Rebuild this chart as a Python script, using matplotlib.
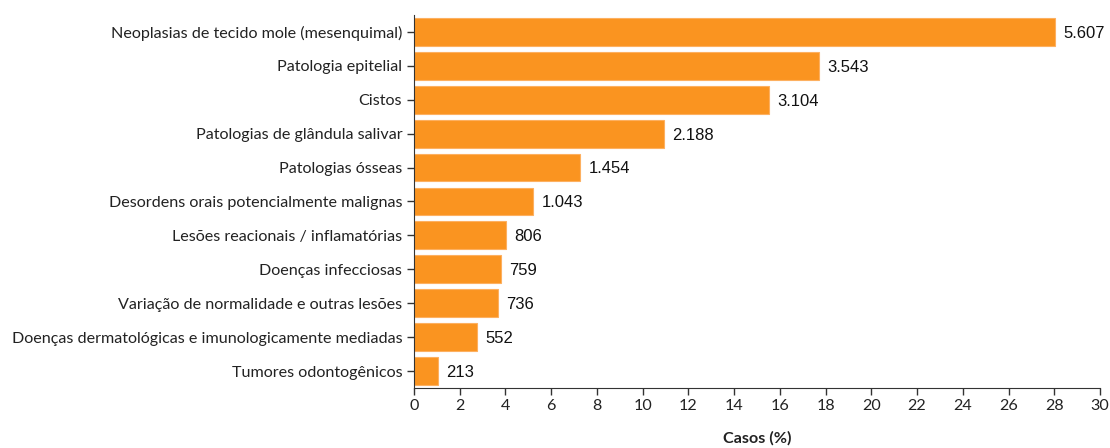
import matplotlib
matplotlib.use("Agg")
import matplotlib.pyplot as plt

categories = [
    "Neoplasias de tecido mole (mesenquimal)",
    "Patologia epitelial",
    "Cistos",
    "Patologias de glândula salivar",
    "Patologias ósseas",
    "Desordens orais potencialmente malignas",
    "Lesões reacionais / inflamatórias",
    "Doenças infecciosas",
    "Variação de normalidade e outras lesões",
    "Doenças dermatológicas e imunologicamente mediadas",
    "Tumores odontogênicos",
]
percentages = [28.03, 17.71, 15.52, 10.94, 7.27, 5.21, 4.03, 3.79, 3.68, 2.76, 1.06]
count_labels = ["5.607", "3.543", "3.104", "2.188", "1.454", "1.043", "806", "759", "736", "552", "213"]
xticks = list(range(0, 31, 2))

fig = plt.figure(figsize=(11.1, 4.48), dpi=100)
ax = fig.add_axes([0.373, 0.134, 0.991 - 0.373, 0.9665 - 0.134])

y = list(range(len(categories)))
ax.barh(y, percentages, height=0.82, color="#FA9420", edgecolor="#FDB060", linewidth=0.8)
ax.set_ylim(len(categories) - 0.5, -0.5)
ax.set_xlim(0, 30)
ax.set_xticks(xticks)
ax.set_yticks(y)
ax.set_yticklabels(categories, family=["Lato", "DejaVu Sans"], fontsize=11.6, color="#222222")
for lbl in ax.get_xticklabels():
    lbl.set_family(["Lato", "DejaVu Sans"])
    lbl.set_fontsize(11.6)
    lbl.set_color("#222222")

for yi, v, t in zip(y, percentages, count_labels):
    ax.annotate(t, (v, yi), xytext=(6, -1), textcoords="offset points",
                ha="left", va="center", fontsize=12, family="Liberation Sans", color="#111111")

for s in ["top", "right"]:
    ax.spines[s].set_visible(False)
ax.spines["left"].set_color("#333333")
ax.spines["bottom"].set_color("#333333")
ax.tick_params(axis="both", direction="out", length=5, color="#333333", width=1)
ax.tick_params(axis="x", pad=3)

fig.text(757 / 1110, 1 - 438 / 448, "Casos (%)", ha="center", va="center",
         fontsize=11.6, fontweight="bold", family=["Lato", "DejaVu Sans"], color="#222222")

fig.savefig("out.png", dpi=100)
